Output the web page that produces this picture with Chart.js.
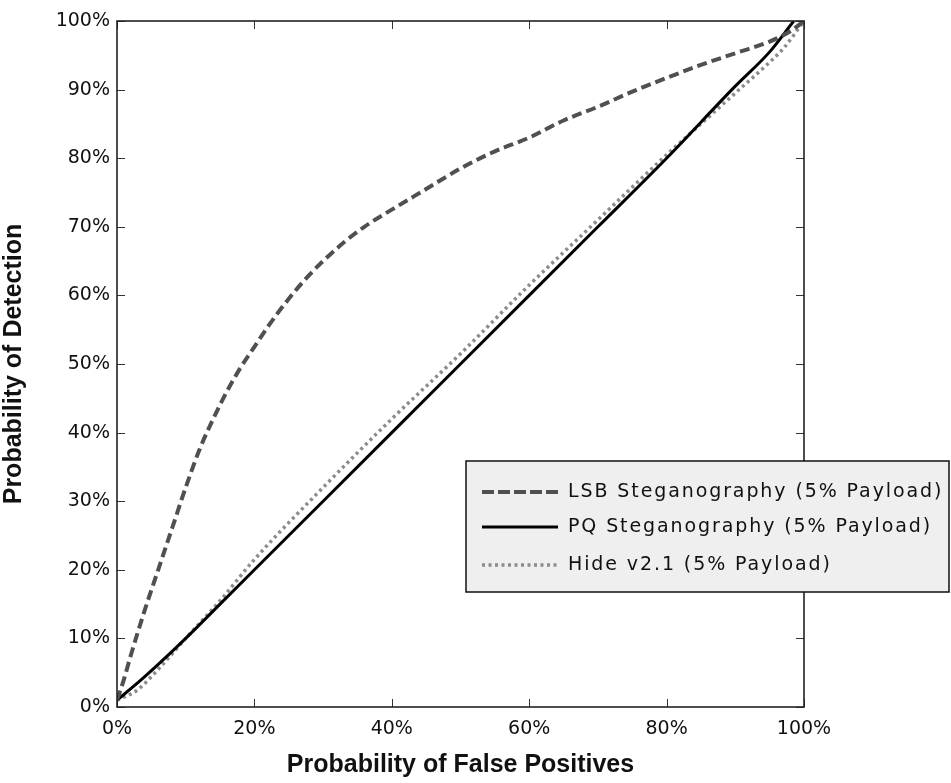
<!DOCTYPE html>
<html><head><meta charset="utf-8">
<script src="https://cdn.jsdelivr.net/npm/chart.js@4/dist/chart.umd.min.js"></script>
<style>html,body{margin:0;padding:0;background:#fff;}canvas{display:block;}</style>
</head><body>
<canvas id="c" width="951" height="783"></canvas>
<script>
// ---- data (fractions: 0..1) ----
const seriesLabels = ['LSB Steganography (5% Payload)', 'PQ Steganography (5% Payload)', 'Hide v2.1 (5% Payload)'];
const lsbX = [0, 0.01, 0.02, 0.04, 0.06, 0.08, 0.10, 0.12, 0.14, 0.16, 0.18, 0.20, 0.22, 0.25, 0.28, 0.30, 0.33, 0.36, 0.40, 0.45, 0.50, 0.55, 0.60, 0.65, 0.70, 0.75, 0.80, 0.85, 0.90, 0.95, 0.98, 1.0];
const lsbY = [0.01, 0.04, 0.075, 0.14, 0.20, 0.26, 0.32, 0.375, 0.42, 0.46, 0.495, 0.525, 0.555, 0.595, 0.63, 0.65, 0.677, 0.70, 0.725, 0.755, 0.785, 0.81, 0.83, 0.855, 0.875, 0.897, 0.917, 0.936, 0.953, 0.97, 0.985, 1.0];
const pqX = [0, 0.03, 0.06, 0.10, 0.15, 0.20, 0.30, 0.40, 0.50, 0.60, 0.70, 0.80, 0.90, 0.95, 0.985];
const pqY = [0.01, 0.035, 0.062, 0.10, 0.15, 0.20, 0.30, 0.40, 0.50, 0.60, 0.70, 0.80, 0.905, 0.955, 1.0];
const hideX = [0, 0.03, 0.06, 0.10, 0.15, 0.20, 0.30, 0.40, 0.50, 0.60, 0.70, 0.80, 0.85, 0.90, 0.95, 0.97, 1.0];
const hideY = [0.01, 0.025, 0.055, 0.10, 0.155, 0.215, 0.32, 0.42, 0.515, 0.615, 0.71, 0.805, 0.85, 0.895, 0.94, 0.96, 1.0];
const xTickStep = 0.2;
const yTickStep = 0.1;
const xTitle = 'Probability of False Positives';
const yTitle = 'Probability of Detection';

const toPts = (xs, ys) => xs.map((x, i) => ({x: x, y: ys[i]}));
const pct = v => Math.round(v * 100) + '%';

const styles = [
  {color: '#505050', width: 4, dash: [10, 5], legendDash: [12, 4]},
  {color: '#000000', width: 3, dash: [], legendDash: []},
  {color: '#8c8c8c', width: 3.5, dash: [3, 3.5], legendDash: [3, 3.5]}
];

const frame = {
  id: 'frame',
  afterDraw(chart) {
    const ctx = chart.ctx, a = chart.chartArea;
    const xs = chart.scales.x, ys = chart.scales.y;
    ctx.save();
    ctx.strokeStyle = '#333';
    ctx.lineWidth = 1;
    ctx.beginPath();
    xs.ticks.forEach(t => {
      const p = Math.round(xs.getPixelForValue(t.value)) + 0.5;
      ctx.moveTo(p, a.bottom); ctx.lineTo(p, a.bottom - 8);
      ctx.moveTo(p, a.top); ctx.lineTo(p, a.top + 8);
    });
    ys.ticks.forEach(t => {
      const p = Math.round(ys.getPixelForValue(t.value)) + 0.5;
      ctx.moveTo(a.left, p); ctx.lineTo(a.left + 8, p);
      ctx.moveTo(a.right, p); ctx.lineTo(a.right - 8, p);
    });
    ctx.stroke();
    ctx.strokeStyle = '#222';
    ctx.lineWidth = 1.6;
    ctx.strokeRect(a.left, a.top, a.right - a.left, a.bottom - a.top);

    // legend
    const lx = 466, ly = 461, lw = 483, lh = 131;
    ctx.fillStyle = '#efefef';
    ctx.fillRect(lx, ly, lw, lh);
    ctx.strokeStyle = '#111';
    ctx.lineWidth = 1.5;
    ctx.strokeRect(lx, ly, lw, lh);
    const rows = [492, 527, 565];
    chart.data.datasets.forEach((ds, i) => {
      const st = styles[i];
      ctx.strokeStyle = st.color;
      ctx.lineWidth = st.width;
      ctx.setLineDash(st.legendDash);
      ctx.beginPath();
      ctx.moveTo(482, rows[i]); ctx.lineTo(558, rows[i]);
      ctx.stroke();
      ctx.setLineDash([]);
      ctx.fillStyle = '#111';
      ctx.font = '19px "DejaVu Sans"';
      ctx.letterSpacing = '1.9px';
      ctx.textBaseline = 'middle';
      ctx.textAlign = 'left';
      ctx.fillText(ds.label, 568, rows[i]);
      ctx.letterSpacing = '0px';
    });
    ctx.restore();
  }
};

const datasets = [toPts(lsbX, lsbY), toPts(pqX, pqY), toPts(hideX, hideY)].map((d, i) => ({
  label: seriesLabels[i],
  data: d,
  borderColor: styles[i].color,
  borderWidth: styles[i].width,
  borderDash: styles[i].dash,
  pointRadius: 0,
  fill: false,
  cubicInterpolationMode: 'monotone',
  borderCapStyle: 'butt'
}));

new Chart(document.getElementById('c'), {
  type: 'line',
  data: {datasets: datasets},
  options: {
    responsive: false,
    animation: false,
    devicePixelRatio: 1,
    layout: {padding: {top: 21, right: 147, left: 0, bottom: 0}},
    plugins: {legend: {display: false}, tooltip: {enabled: false}},
    scales: {
      x: {
        type: 'linear', min: 0, max: 1,
        afterFit(s) { s.height = 76; },
        grid: {display: false, drawTicks: false},
        border: {display: false},
        ticks: {stepSize: xTickStep, callback: pct, color: '#111', padding: 11,
                font: {family: 'DejaVu Sans', size: 19}, maxRotation: 0},
        title: {display: true, text: xTitle, color: '#111',
                font: {family: 'Liberation Sans', size: 25, weight: 'bold'}, padding: {top: 0, bottom: 3}}
      },
      y: {
        type: 'linear', min: 0, max: 1,
        afterFit(s) { s.width = 117; },
        grid: {display: false, drawTicks: false},
        border: {display: false},
        ticks: {stepSize: yTickStep, callback: pct, color: '#111', padding: 7,
                font: {family: 'DejaVu Sans', size: 19}},
        title: {display: true, text: yTitle, color: '#111',
                font: {family: 'Liberation Sans', size: 25, weight: 'bold'}, padding: {top: -1, bottom: 0}}
      }
    }
  },
  plugins: [frame]
});
</script>
</body></html>
